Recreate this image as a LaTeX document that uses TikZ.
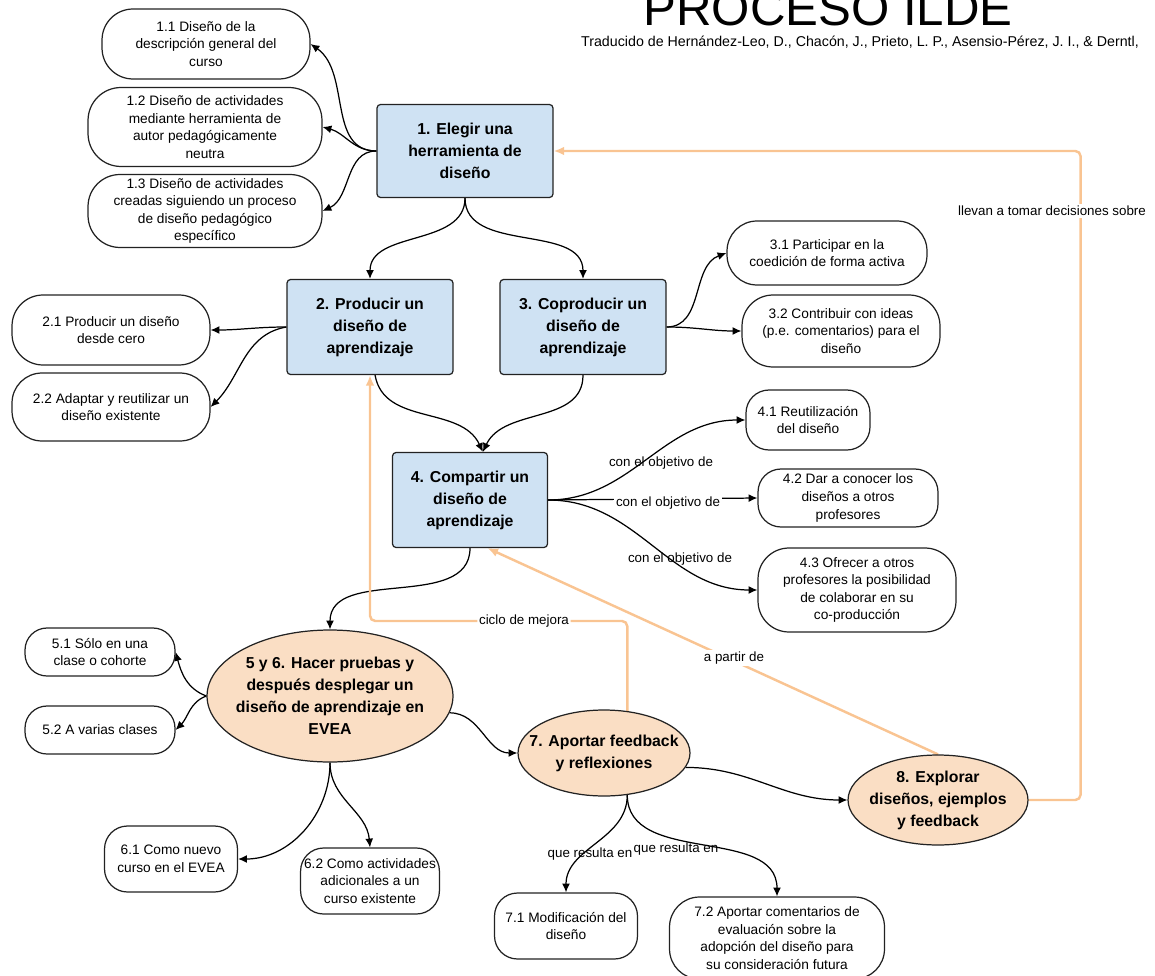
\documentclass[tikz,border=0pt]{standalone}
\usepackage{fontspec}
\setmainfont{Liberation Sans}
\usetikzlibrary{shapes.geometric,arrows.meta}
\definecolor{pasoazul}{RGB}{207,226,243}
\definecolor{pasonaranja}{RGB}{250,222,196}
\definecolor{lineanaranja}{RGB}{249,196,146}
\definecolor{borde}{RGB}{34,34,34}

\begin{document}
\begin{tikzpicture}[x=0.02cm, y=-0.02cm]
        \pgfdeclarelayer{edgelayer}
        \pgfsetlayers{edgelayer,main}
        \tikzstyle{paso}=[draw=borde, line width=0.7pt, fill=pasoazul, rounded corners=2pt, align=center, font=\fontsize{9}{12.5}\selectfont\bfseries, minimum width=3.32cm, minimum height=1.9cm]
        \tikzstyle{fase}=[ellipse, draw=borde, line width=0.7pt, fill=pasonaranja, align=center, inner xsep=-0.4cm, inner ysep=-0.25cm, font=\fontsize{9}{12.5}\selectfont\bfseries]
        \tikzstyle{sub}=[draw=borde, line width=0.7pt, fill=white, rounded corners=0.46cm, align=center, inner sep=2pt, font=\fontsize{7.8}{10}\selectfont]
        \tikzstyle{etiqueta}=[font=\fontsize{7.6}{9.5}\selectfont, inner sep=1pt]
        \tikzstyle{arrow}=[-{Latex[length=5pt, width=4.5pt]}, line width=0.7pt, black]
        \tikzstyle{feedback}=[-{Latex[length=6pt, width=5pt]}, line width=1.4pt, lineanaranja, rounded corners=3pt]

        \useasboundingbox (0,0) rectangle (1155,976);

        \node [font=\fontsize{28}{30}\selectfont, anchor=base, inner sep=0pt] (titulo) at (828,26) {PROCESO ILDE};
        \node [font=\fontsize{8.1}{9}\selectfont, anchor=base, inner sep=0pt] (fuente) at (860,47) {Traducido de Hernández-Leo, D., Chacón, J., Prieto, L. P., Asensio-Pérez, J. I., \& Derntl,};

        % pasos
        \node [style=paso, minimum width=3.52cm, minimum height=1.86cm] (1) at (465,151) {1. Elegir una\\herramienta de\\diseño};
        \node [style=paso] (2) at (370,327) {2. Producir un\\diseño de\\aprendizaje};
        \node [style=paso] (3) at (583,327) {3. Coproducir un\\diseño de\\aprendizaje};
        \node [style=paso, minimum width=3.1cm] (4) at (470,500) {4. Compartir un\\diseño de\\aprendizaje};
        \node [style=fase, minimum width=4.92cm, minimum height=2.64cm] (56) at (330,696) {5 y 6. Hacer pruebas y\\después desplegar un\\diseño de aprendizaje en\\EVEA};
        \node [style=fase, minimum width=3.44cm, minimum height=1.72cm] (7) at (604,753) {7. Aportar feedback\\y reflexiones};
        \node [style=fase, minimum width=3.6cm, minimum height=1.8cm] (8) at (938,800) {8. Explorar\\diseños, ejemplos\\y feedback};

        % subpasos
        \node [style=sub, minimum width=4.16cm, minimum height=1.4cm, rounded corners=0.62cm] (11) at (206,44) {1.1 Diseño de la\\descripción general del\\curso};
        \node [style=sub, minimum width=4.68cm, minimum height=1.58cm, rounded corners=0.66cm] (12) at (205,127) {1.2 Diseño de actividades\\mediante herramienta de\\autor pedagógicamente\\neutra};
        \node [style=sub, minimum width=4.68cm, minimum height=1.46cm, rounded corners=0.64cm] (13) at (205,211) {1.3 Diseño de actividades\\creadas siguiendo un proceso\\de diseño pedagógico\\específico};
        \node [style=sub, minimum width=3.96cm, minimum height=1.4cm, rounded corners=0.62cm] (21) at (111,330) {2.1 Producir un diseño\\desde cero};
        \node [style=sub, minimum width=3.96cm, minimum height=1.36cm, rounded corners=0.6cm] (22) at (111,407) {2.2 Adaptar y reutilizar un\\diseño existente};
        \node [style=sub, minimum width=4.0cm, minimum height=1.28cm, rounded corners=0.6cm] (31) at (827,253) {3.1 Participar en la\\coedición de forma activa};
        \node [style=sub, minimum width=3.96cm, minimum height=1.44cm, rounded corners=0.62cm] (32) at (841,331) {3.2 Contribuir con ideas\\(p.e. comentarios) para el\\diseño};
        \node [style=sub, minimum width=2.48cm, minimum height=1.2cm] (41) at (808,420) {4.1 Reutilización\\del diseño};
        \node [style=sub, minimum width=3.6cm, minimum height=1.16cm] (42) at (848,498) {4.2 Dar a conocer los\\diseños a otros\\profesores};
        \node [style=sub, minimum width=3.96cm, minimum height=1.68cm, rounded corners=0.62cm] (43) at (857,590) {4.3 Ofrecer a otros\\profesores la posibilidad\\de colaborar en su\\co-producción};
        \node [style=sub, minimum width=3.0cm, minimum height=0.96cm, rounded corners=0.44cm] (51) at (100,652) {5.1 Sólo en una\\clase o cohorte};
        \node [style=sub, minimum width=3.0cm, minimum height=0.96cm, rounded corners=0.44cm] (52) at (100,730) {5.2 A varias clases};
        \node [style=sub, minimum width=2.66cm, minimum height=1.32cm] (61) at (171,859) {6.1 Como nuevo\\curso en el EVEA};
        \node [style=sub, minimum width=2.72cm, minimum height=1.32cm] (62) at (370,881) {6.2 Como actividades\\adicionales a un\\curso existente};
        \node [style=sub, minimum width=2.86cm, minimum height=1.32cm] (71) at (566,926) {7.1 Modificación del\\diseño};
        \node [style=sub, minimum width=4.3cm, minimum height=1.64cm, rounded corners=0.6cm] (72) at (777,938) {7.2 Aportar comentarios de\\evaluación sobre la\\adopción del diseño para\\su consideración futura};

        % etiquetas
        \node [style=etiqueta] (obj1) at (661,463) {con el objetivo de};
        \node [style=etiqueta, fill=white] (obj2) at (668,503) {con el objetivo de};
        \node [style=etiqueta] (obj3) at (680,559) {con el objetivo de};
        \node [style=etiqueta] (res1) at (590,854) {que resulta en};
        \node [style=etiqueta] (res2) at (676,849) {que resulta en};
        \node [style=etiqueta, fill=white] (partir) at (734,658) {a partir de};
        \node [style=etiqueta, fill=white] (llevan) at (1052,211) {llevan a tomar decisiones sobre};
        \coordinate (ciclo) at (524,621);

        \begin{pgfonlayer}{edgelayer}
            \draw [style=arrow] (1.west) to [out=180, in=-35] (11.east);
            \draw [style=arrow] (1.west) to [out=180, in=-15] (12.east);
            \draw [style=arrow] (1.west) to [out=180, in=25] (13.east);
            \draw [style=arrow] (1.south) to [out=-90, in=90] (2.north);
            \draw [style=arrow] (1.south) to [out=-90, in=90] (3.north);
            \draw [style=arrow] (2.west) to [out=180, in=0] (21.east);
            \draw [style=arrow] (2.west) to [out=190, in=45] (22.east);
            \draw [style=arrow] (3.east) to [out=0, in=200] (31.west);
            \draw [style=arrow] (3.east) to [out=0, in=180] (32.west);
            \draw [style=arrow] (2.-84) to [out=-80, in=115] (4.75);
            \draw [style=arrow] (3.south) to [out=-90, in=65] (4.75);
            \draw [style=arrow] (4.east) to [out=0, in=180] (41.west);
            \draw [style=arrow] (4.east) to (42.west);
            \draw [style=arrow] (4.east) to [out=0, in=180] (43.west);
            \draw [style=arrow] (4.south) to [out=-90, in=90] (56.north);
            \draw [style=arrow] (56.west) to [out=160, in=-75] (51.east);
            \draw [style=arrow] (56.west) to [out=200, in=45] (52.east);
            \draw [style=arrow] (56.-8) to [out=0, in=180] (7.west);
            \draw [style=arrow] (56.south) to [out=-90, in=0] (61.east);
            \draw [style=arrow] (56.south) to [out=-90, in=95] (62.north);
            \draw [style=arrow] (7.-61) to [out=-90, in=90] (71.north);
            \draw [style=arrow] (7.-61) to [out=-90, in=90] (72.north);
            \draw [style=arrow] (7.-10) to [out=0, in=180] (8.west);

            \draw [style=feedback] (8.east) -- ++(52,0) |- (1.east);
            \draw [style=feedback] (7.61) |- (ciclo) node [style=etiqueta, fill=white, text=black] {ciclo de mejora} -| (2.south);
            \draw [style=feedback] (8.north) -- (4.-70);
        \end{pgfonlayer}
\end{tikzpicture}
\end{document}
